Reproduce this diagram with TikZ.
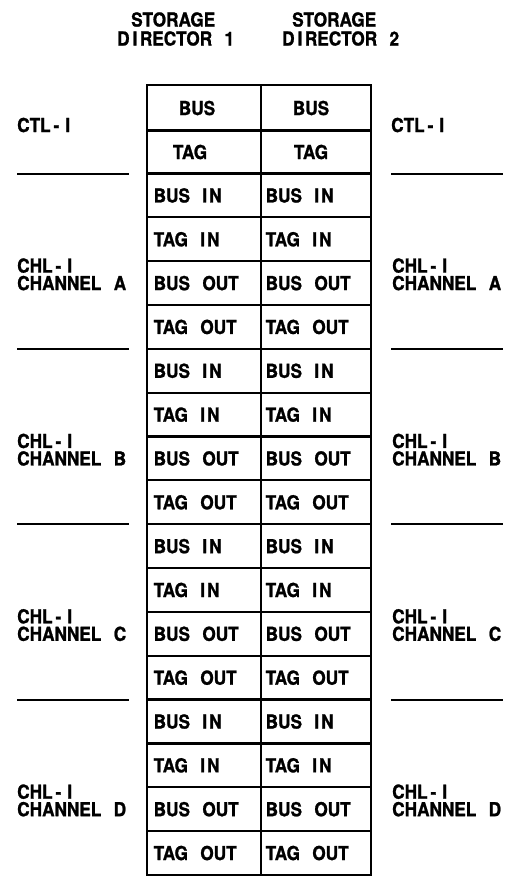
\documentclass[tikz,border=0pt]{standalone}
\usepackage{fontspec}
\setmainfont{TeX Gyre Heros}[BoldFeatures={FakeBold=1.2}]
\usepackage{graphicx}
\newcommand\lblfont{\fontsize{17.2}{18}\bfseries\spaceskip=0.72em\relax}
\newcommand\tl[1]{\scalebox{1}[1.12]{#1}}
\newcommand\chlI{CHL\kern3pt-\kern6pt I}
\newcommand\ctlI{CTL\kern3pt-\kern6pt I}
\newcommand\inI{I\kern2pt N}
\newcommand\dirI{D\kern3pt I\kern2.5pt RECTOR}
\begin{document}
\begin{tikzpicture}[x=1pt,y=-1pt,
  txt/.style={font=\lblfont, inner sep=0pt, anchor=west},
  ctr/.style={font=\lblfont, inner sep=0pt},
  gridline/.style={line width=2.2pt},
  outer/.style={line width=2.6pt},
  sepline/.style={line width=2pt}]
\useasboundingbox (0,0) rectangle (508,876);
\fill[white] (0,0) rectangle (508,876);
% titles
\node[txt] (s1) at (131,19.5) {\tl{STORAGE}};
\node[txt] (d1) at (117,38.5) {\tl{\dirI\ 1}};
\node[txt] (s2) at (292,19.5) {\tl{STORAGE}};
\node[txt] (d2) at (282,38.5) {\tl{\dirI\ 2}};
% grid
\draw[gridline] (261,85) -- (261,875);
\draw[gridline] (147,130.5) -- (371,130.5);
\foreach \k in {0,...,15}
  \draw[gridline] (147,{173.5+\k*43.84}) -- (371,{173.5+\k*43.84});
\draw[outer] (147,85) rectangle (371,875);
% top rows
\node[ctr] (bus1) at (197,108) {\tl{BUS}};
\node[ctr] (tag1) at (190,152) {\tl{TAG}};
\node[ctr] (bus2) at (311,108) {\tl{BUS}};
\node[ctr] (tag2) at (311,152) {\tl{TAG}};
% channel rows
\foreach \g in {0,...,3}{
  \foreach \r/\t in {0/BUS \inI, 1/TAG \inI, 2/BUS OUT, 3/TAG OUT}{
    \node[txt] (a\g\r) at (153.5,{173.5+(4*\g+\r+0.5)*43.84}) {\tl{\t}};
    \node[txt] (b\g\r) at (265.5,{173.5+(4*\g+\r+0.5)*43.84}) {\tl{\t}};
  }
}
% side labels
\node[txt] (ctlL) at (17,125) {\tl{\ctlI}};
\node[txt] (ctlR) at (391,125) {\tl{\ctlI}};
\foreach \g/\c in {0/A,1/B,2/C,3/D}{
  \node[txt] (chlL\g) at (17,{173.5+(4*\g+2.5)*43.84-17.5}) {\tl{\chlI}};
  \node[txt] (chnL\g) at (17,{173.5+(4*\g+2.5)*43.84}) {\tl{CHANNEL \c}};
  \node[txt] (chlR\g) at (392,{173.5+(4*\g+2.5)*43.84-17.5}) {\tl{\chlI}};
  \node[txt] (chnR\g) at (392,{173.5+(4*\g+2.5)*43.84}) {\tl{CHANNEL \c}};
  \draw[sepline] (17,{173.5+4*\g*43.84}) -- (129,{173.5+4*\g*43.84});
  \draw[sepline] (391,{173.5+4*\g*43.84}) -- (503,{173.5+4*\g*43.84});
}
\end{tikzpicture}
\end{document}
